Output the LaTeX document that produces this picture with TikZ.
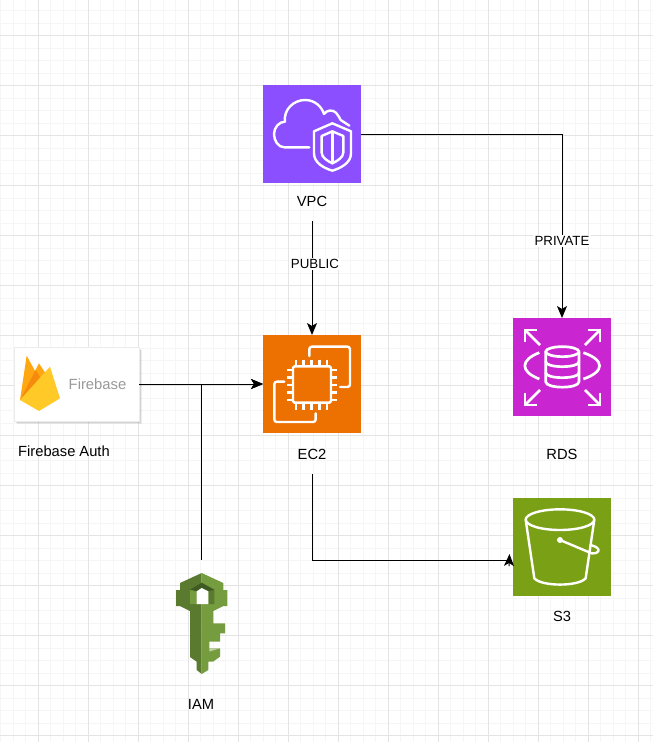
\documentclass[tikz,border=0pt]{standalone}
\usepackage{fontspec}
\setmainfont{Liberation Sans}
\usepackage{tikz}
\usetikzlibrary{arrows.meta,shadows}
\definecolor{vpcpurple}{HTML}{8C4FFF}
\definecolor{ecorange}{HTML}{ED7100}
\definecolor{rdspink}{HTML}{C925D1}
\definecolor{sgreen}{HTML}{7AA116}
\definecolor{keydark}{HTML}{5A7A30}
\definecolor{keylight}{HTML}{759C3E}
\definecolor{keyshade}{HTML}{3F5A23}
\definecolor{flameback}{HTML}{FFA712}
\definecolor{flamemid}{HTML}{F68A0C}
\definecolor{flamefront}{HTML}{FFCA28}
\definecolor{gridminor}{HTML}{F6F6F6}
\definecolor{gridmajor}{HTML}{E4E4E4}
\begin{document}
\begin{tikzpicture}[x=1pt, y=-1pt,
        icon/.style = {minimum size=98pt, inner sep=0pt, line width=0pt},
        tag/.style = {text=black, minimum width=60pt, minimum height=40pt, inner sep=0pt, font=\fontsize{14.7}{16}\selectfont},
        edgetag/.style = {fill=white, inner sep=1.5pt, text=black, font=\fontsize{13.3}{15}\selectfont},
        flow/.style = {draw=black, line width=1pt, -{Stealth[length=12pt,width=10pt,inset=3pt]}},
        glyph/.style = {draw=white, line width=2.4pt, line join=round, line cap=round},
        zoomed/.style = {x=0.3333pt, y=-0.3333pt}]
    \useasboundingbox (0,0) rectangle (653,742);
    \fill[white] (0,0) rectangle (653,742);
    \foreach \k in {0,...,52} {\draw[gridminor, line width=0.8pt] ({0.5+12.5*\k},0) -- ({0.5+12.5*\k},742);}
    \foreach \k in {0,...,59} {\draw[gridminor, line width=0.8pt] (0,{10.5+12.5*\k}) -- (653,{10.5+12.5*\k});}
    \foreach \k in {0,...,12} {\draw[gridmajor, line width=0.8pt] ({38+50*\k},0) -- ({38+50*\k},742);}
    \foreach \k in {0,...,14} {\draw[gridmajor, line width=0.8pt] (0,{35.5+50*\k}) -- (653,{35.5+50*\k});}

    \node[icon, fill=vpcpurple] (vpc) at (312,134) {};
    \node[icon, fill=ecorange] (ec2) at (312,384) {};
    \node[icon, fill=rdspink] (rds) at (562,367) {};
    \node[icon, fill=sgreen] (s3) at (562,547) {};
    \node[fill=white, draw=black!8, minimum width=125pt, minimum height=74pt, inner sep=0pt,
        drop shadow={shadow xshift=1pt, shadow yshift=-1pt, fill=black, opacity=0.12},
        drop shadow={shadow xshift=2pt, shadow yshift=-2pt, fill=black, opacity=0.1},
        drop shadow={shadow xshift=3pt, shadow yshift=-3pt, fill=black, opacity=0.07}] (firebase) at (76.5,384) {};
    \node[minimum width=52pt, minimum height=126pt, inner sep=0pt] (iam) at (201,623) {};

    \node[tag] (vpclabel) at (312,201) {VPC};
    \node[tag] (ec2label) at (312,454) {EC2};
    \node[tag] (rdslabel) at (562,454) {RDS};
    \node[tag] (s3label) at (562,616) {S3};
    \node[tag] (iamlabel) at (201,704) {IAM};
    \node[tag] (firebaselabel) at (64,451) {Firebase Auth};
    \node[text=black!40, font=\fontsize{14.8}{16}\selectfont, inner sep=0pt] (firebasetext) at (97.5,384) {Firebase};
    \coordinate (s3elbow) at (508,560);
    \coordinate (s3tip) at (509.5,554);
    \coordinate (s3base) at (509,566.2);

    \draw[flow] (vpclabel.south) -- node [edgetag, pos=0.375, xshift=3pt] (publictag) {PUBLIC} (ec2.north);
    \draw[flow] (vpc.east) -| node [edgetag, pos=0.79] (privatetag) {PRIVATE} (rds.north);
    \draw[flow] (firebase.east) -- (ec2.west);
    \draw[flow] (iam.north) |- (ec2.west);
    \draw[draw=black, line width=1pt] (ec2label.south) |- (s3elbow);
    \draw[flow] (s3base) -- (s3tip);

    \begin{scope}[shift={(250,70)}, zoomed]
        \draw[glyph] (178,232) -- (103,232) .. controls (85,232) and (72,212) .. (72,192) .. controls (72,172) and (88,155) .. (105,155)
            .. controls (100,120) and (130,90) .. (165,90) .. controls (195,90) and (215,110) .. (222,132)
            .. controls (230,120) and (248,118) .. (258,128) .. controls (266,135) and (268,145) .. (272,150) -- (298,167);
        \draw[glyph] (192,184) -- (247,160) -- (303,184) -- (303,250) .. controls (303,280) and (270,295) .. (247,302)
            .. controls (224,295) and (192,280) .. (192,250) -- cycle;
        \draw[glyph] (215,198) -- (247,184) -- (280,198) -- (280,248) .. controls (280,262) and (262,273) .. (247,280)
            .. controls (232,273) and (215,262) .. (215,248) -- cycle;
        \draw[glyph] (247,184) -- (247,280);
    \end{scope}

    \begin{scope}[shift={(250,325)}, zoomed]
        \draw[glyph, rounded corners=1.5pt] (129,124) rectangle (243,233);
        \foreach \p in {138,161,185,208,231} {\draw[glyph, line cap=butt] (\p,104) -- (\p,124); \draw[glyph, line cap=butt] (\p,233) -- (\p,256);}
        \foreach \p in {135,157,180,203,225} {\draw[glyph, line cap=butt] (112,\p) -- (129,\p); \draw[glyph, line cap=butt] (243,\p) -- (262,\p);}
        \draw[glyph, rounded corners=2.5pt] (178,93) -- (178,65) -- (300,65) -- (300,186) -- (270,186);
        \draw[glyph, rounded corners=2.5pt] (103,170) -- (73,170) -- (73,291) -- (197,291) -- (197,265);
    \end{scope}

    \begin{scope}[shift={(500,305)}, zoomed, glyph/.append style={line width=2.7pt}]
        \draw[glyph, line cap=butt] (120,120) -- (75,75);
        \draw[glyph, line cap=butt, line join=miter] (75,112) -- (75,75) -- (112,75);
        \draw[glyph, line cap=butt] (255,120) -- (300,75);
        \draw[glyph, line cap=butt, line join=miter] (263,75) -- (300,75) -- (300,112);
        \draw[glyph, line cap=butt] (120,255) -- (75,300);
        \draw[glyph, line cap=butt, line join=miter] (75,263) -- (75,300) -- (112,300);
        \draw[glyph, line cap=butt] (255,255) -- (300,300);
        \draw[glyph, line cap=butt, line join=miter] (300,263) -- (300,300) -- (263,300);
        \draw[glyph] (187,140) ellipse [x radius=50, y radius=15];
        \draw[glyph] (137,140) -- (137,230) .. controls (137,252) and (237,252) .. (237,230) -- (237,140);
        \draw[glyph] (137,170) .. controls (137,190) and (237,190) .. (237,170);
        \draw[glyph] (137,203) .. controls (137,223) and (237,223) .. (237,203);
        \draw[glyph, line cap=butt] (118,143) .. controls (60,165) and (60,200) .. (118,222);
        \draw[glyph, line cap=butt] (250,143) .. controls (315,165) and (315,200) .. (250,222);
    \end{scope}

    \begin{scope}[shift={(500,490)}, zoomed]
        \draw[glyph] (180,89) ellipse [x radius=103, y radius=31];
        \draw[glyph] (77,89) -- (103,265) .. controls (125,290) and (235,290) .. (257,265) -- (283,89);
        \fill[white] (180,150) circle [radius=9];
        \draw[glyph] (180,150) -- (275,190) .. controls (290,192) and (298,184) .. (295,178) .. controls (292,172) and (282,167) .. (272,165);
    \end{scope}

    \fill[keydark] (201.7,573) -- (180,583) -- (180,590) -- (176,590) -- (176,606) -- (180,606) -- (190,611)
        -- (190,657) -- (196.7,661.7) -- (196.7,670) -- (201.7,674) -- cycle;
    \fill[keylight] (201.7,573) -- (223.3,583) -- (223.3,590) -- (227.3,590) -- (227.3,606) -- (223.3,606) -- (213.3,611)
        -- (213.3,623.3) -- (225,623.3) -- (225,633.3) -- (220,633.3) -- (220,641.7) -- (209.3,641.7) -- (209.3,648.3)
        -- (220,648.3) -- (220,656.7) -- (213,661.7) -- (208.3,661.7) -- (208.3,670) -- (201.7,674) -- cycle;
    \fill[keylight!45!white] (209.3,648.3) -- (220,648.3) -- (209.3,651.5) -- cycle;
    \fill[keylight] (190,589.7) -- (196.7,590) -- (196.7,604) -- (190,604) -- cycle;
    \fill[keydark] (208.3,590) -- (214.3,589.7) -- (214.3,604) -- (208.3,604) -- cycle;
    \fill[keyshade] (190,589.7) -- (201.7,582.7) -- (214.3,589.7) -- (208.3,591.3) -- (201.7,588) -- (196.7,591.3) -- cycle;
    \fill[white] (196.7,591.3) -- (201.7,588) -- (208.3,591.3) -- (208.3,604) -- (196.7,604) -- cycle;

    \begin{scope}[shift={(15,350)}, zoomed]
        \fill[flameback] (15,150) -- (35,17) -- (65,72) -- cycle;
        \fill[flameback] (15,150) -- (72,40) -- (95,75) -- cycle;
        \fill[flamemid] (15,150) -- (62,60) -- (80,90) -- cycle;
        \fill[flamefront] (15,150) -- (105,50) -- (135,145) -- (72,183) -- cycle;
    \end{scope}
\end{tikzpicture}
\end{document}
